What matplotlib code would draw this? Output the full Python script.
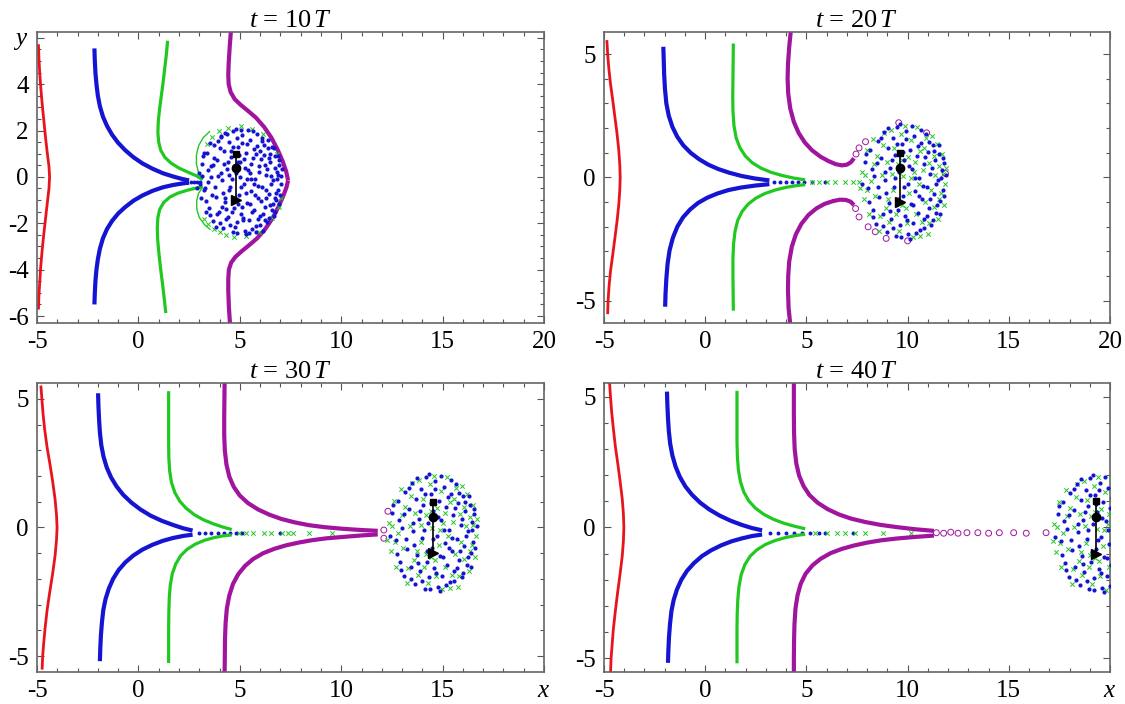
import matplotlib
matplotlib.use('Agg')
import matplotlib.pyplot as plt
from matplotlib.ticker import MultipleLocator

plt.rcParams['font.family'] = ['Liberation Serif', 'DejaVu Serif']
plt.rcParams['mathtext.fontset'] = 'custom'
plt.rcParams['mathtext.rm'] = 'Liberation Serif'
plt.rcParams['mathtext.it'] = 'Liberation Serif:italic'
plt.rcParams['axes.unicode_minus'] = False

# ---- data ---------------------------------------------------------------
times = [10, 20, 30, 40]
y_top = [6.25, 5.9, 5.62, 5.53]
y_bot = [-6.3, -5.9, -5.62, -5.53]

# red streak line
red = [
    [(-4.93, 5.72), (-4.9, 5.0), (-4.86, 4.4), (-4.81, 3.8), (-4.74, 3.1), (-4.66, 2.4),
     (-4.58, 1.7), (-4.49, 1.0), (-4.41, 0.45), (-4.38, 0.0), (-4.41, -0.5), (-4.49, -1.1),
     (-4.58, -1.8), (-4.67, -2.5), (-4.75, -3.2), (-4.82, -3.9), (-4.87, -4.6), (-4.91, -5.2),
     (-4.93, -5.72)],
    [(-4.86, 5.57), (-4.82, 5.0), (-4.76, 4.4), (-4.68, 3.8), (-4.58, 3.2), (-4.47, 2.5),
     (-4.36, 1.8), (-4.27, 1.1), (-4.22, 0.5), (-4.2, 0.0), (-4.22, -0.5), (-4.27, -1.1),
     (-4.36, -1.8), (-4.47, -2.5), (-4.58, -3.2), (-4.68, -3.8), (-4.75, -4.4), (-4.8, -5.0),
     (-4.82, -5.54)],
    [(-4.81, 5.52), (-4.76, 5.0), (-4.7, 4.4), (-4.62, 3.8), (-4.5, 3.1), (-4.37, 2.5),
     (-4.23, 1.8), (-4.11, 1.1), (-4.04, 0.5), (-4.01, 0.0), (-4.04, -0.5), (-4.11, -1.1),
     (-4.23, -1.8), (-4.37, -2.5), (-4.5, -3.2), (-4.6, -3.9), (-4.67, -4.5), (-4.72, -5.0),
     (-4.75, -5.53)],
    [(-4.73, 5.6), (-4.68, 5.0), (-4.62, 4.4), (-4.54, 3.8), (-4.44, 3.1), (-4.33, 2.5),
     (-4.21, 1.8), (-4.1, 1.1), (-4.04, 0.5), (-4.02, 0.0), (-4.04, -0.5), (-4.1, -1.1),
     (-4.21, -1.8), (-4.33, -2.5), (-4.44, -3.2), (-4.54, -3.9), (-4.6, -4.5), (-4.65, -5.0),
     (-4.68, -5.6)],
]

# blue streak line, upper and lower branch
blue_up = [
    [(-2.17, 5.54), (-2.15, 5.0), (-2.12, 4.5), (-2.07, 4.0), (-2.0, 3.5), (-1.9, 3.05),
     (-1.75, 2.6), (-1.55, 2.2), (-1.3, 1.82), (-1.0, 1.47), (-0.65, 1.15), (-0.25, 0.85),
     (0.2, 0.58), (0.7, 0.35), (1.2, 0.16), (1.7, 0.02), (2.2, -0.1), (2.5, -0.15)],
    [(-2.07, 5.3), (-2.05, 4.8), (-2.03, 4.2), (-1.99, 3.6), (-1.92, 3.0), (-1.8, 2.5),
     (-1.62, 2.05), (-1.38, 1.65), (-1.08, 1.3), (-0.72, 1.0), (-0.3, 0.74), (0.15, 0.52),
     (0.65, 0.34), (1.2, 0.19), (1.8, 0.06), (2.45, -0.04), (3.17, -0.12)],
    [(-1.99, 5.22), (-1.97, 4.7), (-1.94, 4.2), (-1.9, 3.7), (-1.83, 3.2), (-1.72, 2.75),
     (-1.56, 2.33), (-1.35, 1.95), (-1.08, 1.6), (-0.75, 1.27), (-0.35, 0.97), (0.1, 0.7),
     (0.6, 0.46), (1.15, 0.26), (1.7, 0.1), (2.2, -0.03), (2.67, -0.12)],
    [(-1.89, 5.2), (-1.87, 4.7), (-1.84, 4.2), (-1.8, 3.7), (-1.73, 3.2), (-1.62, 2.75),
     (-1.46, 2.32), (-1.25, 1.93), (-0.98, 1.57), (-0.65, 1.25), (-0.25, 0.95), (0.2, 0.69),
     (0.7, 0.46), (1.25, 0.26), (1.8, 0.1), (2.3, -0.02), (2.81, -0.11)],
]
blue_lo = [
    [(-2.17, -5.5), (-2.15, -5.0), (-2.12, -4.5), (-2.07, -4.0), (-2.0, -3.55), (-1.9, -3.1),
     (-1.75, -2.65), (-1.55, -2.25), (-1.3, -1.9), (-1.0, -1.58), (-0.65, -1.3), (-0.25, -1.03),
     (0.2, -0.8), (0.7, -0.6), (1.2, -0.45), (1.7, -0.35), (2.2, -0.28), (2.5, -0.25)],
    [(-1.98, -5.24), (-1.96, -4.7), (-1.92, -4.1), (-1.86, -3.5), (-1.76, -2.95), (-1.6, -2.45),
     (-1.38, -2.0), (-1.1, -1.62), (-0.75, -1.3), (-0.35, -1.03), (0.1, -0.82), (0.6, -0.65),
     (1.15, -0.51), (1.75, -0.41), (2.45, -0.33), (3.17, -0.27)],
    [(-1.9, -5.2), (-1.88, -4.7), (-1.85, -4.2), (-1.8, -3.7), (-1.73, -3.2), (-1.62, -2.78),
     (-1.46, -2.38), (-1.25, -2.0), (-0.98, -1.66), (-0.65, -1.36), (-0.25, -1.09), (0.2, -0.86),
     (0.7, -0.67), (1.2, -0.52), (1.7, -0.41), (2.2, -0.33), (2.67, -0.28)],
    [(-1.84, -5.18), (-1.82, -4.7), (-1.79, -4.2), (-1.74, -3.7), (-1.67, -3.2), (-1.56, -2.78),
     (-1.4, -2.38), (-1.18, -2.0), (-0.9, -1.66), (-0.55, -1.36), (-0.15, -1.09), (0.3, -0.87),
     (0.8, -0.68), (1.3, -0.53), (1.8, -0.42), (2.3, -0.33), (2.81, -0.27)],
]
blue_tail = [
    [2.6, 2.75, 2.9, 3.05],
    [3.4, 3.7, 4.0, 4.3, 4.6, 4.9, 5.3, 5.9],
    [3.0, 3.3, 3.6, 3.9, 4.2, 4.5, 4.8, 5.1, 6.98],
    [3.2, 3.6, 4.0, 4.4, 4.8, 5.2, 5.6, 5.92, 7.29],
]

# green streak line
green_up = [
    [(1.44, 5.87), (1.38, 5.3), (1.3, 4.7), (1.22, 4.1), (1.13, 3.5), (1.04, 2.9), (0.98, 2.4),
     (0.96, 1.9), (1.0, 1.5), (1.1, 1.15), (1.3, 0.85), (1.6, 0.6), (2.0, 0.38), (2.45, 0.2),
     (2.85, 0.05), (3.17, -0.12)],
    [(1.39, 5.43), (1.38, 4.7), (1.37, 4.0), (1.36, 3.3), (1.37, 2.7), (1.42, 2.1), (1.53, 1.6),
     (1.72, 1.2), (1.98, 0.87), (2.32, 0.6), (2.75, 0.38), (3.25, 0.21), (3.8, 0.08),
     (4.35, -0.02), (4.94, -0.1)],
    [(1.49, 5.3), (1.49, 4.6), (1.49, 3.9), (1.49, 3.3), (1.5, 2.7), (1.54, 2.2), (1.63, 1.75),
     (1.8, 1.35), (2.04, 1.02), (2.35, 0.75), (2.75, 0.5), (3.2, 0.3), (3.7, 0.14), (4.15, 0.02),
     (4.6, -0.08)],
    [(1.57, 5.23), (1.57, 4.6), (1.57, 3.9), (1.57, 3.3), (1.59, 2.7), (1.64, 2.2), (1.74, 1.75),
     (1.91, 1.35), (2.15, 1.02), (2.48, 0.74), (2.9, 0.5), (3.35, 0.32), (3.85, 0.17), (4.4, 0.05),
     (4.94, -0.05)],
]
green_lo = [
    [(1.35, -5.87), (1.28, -5.3), (1.2, -4.7), (1.1, -4.0), (1.01, -3.3), (0.95, -2.7),
     (0.93, -2.2), (0.96, -1.75), (1.05, -1.4), (1.25, -1.1), (1.55, -0.87), (1.95, -0.7),
     (2.4, -0.58), (2.85, -0.48), (3.17, -0.43)],
    [(1.39, -5.4), (1.38, -4.7), (1.37, -4.0), (1.37, -3.3), (1.4, -2.7), (1.47, -2.2), (1.6, -1.75),
     (1.82, -1.38), (2.12, -1.08), (2.5, -0.84), (2.95, -0.65), (3.45, -0.51), (4.0, -0.4),
     (4.5, -0.33), (4.94, -0.29)],
    [(1.49, -5.27), (1.49, -4.6), (1.49, -3.9), (1.5, -3.3), (1.52, -2.75), (1.57, -2.25),
     (1.67, -1.8), (1.84, -1.42), (2.08, -1.1), (2.4, -0.85), (2.8, -0.65), (3.25, -0.5),
     (3.7, -0.4), (4.15, -0.33), (4.6, -0.29)],
    [(1.57, -5.2), (1.57, -4.6), (1.57, -3.9), (1.58, -3.3), (1.61, -2.75), (1.67, -2.25),
     (1.78, -1.8), (1.96, -1.42), (2.22, -1.1), (2.56, -0.85), (2.98, -0.65), (3.45, -0.5),
     (3.95, -0.39), (4.45, -0.31), (4.94, -0.26)],
]
green_tail = [
    [],
    [5.3, 5.6, 6.0, 6.4, 6.9, 7.3, 7.6],
    [4.95, 5.3, 5.66, 6.19, 6.54, 7.07, 7.39, 7.63, 8.39, 9.53],
    [5.4, 6.0, 6.5, 6.9, 7.4, 7.9, 8.8, 10.18],
]
# green streak wrapping round the blob at t = 10T
green_arc_up = [(3.17, -0.12), (2.96, 0.2), (2.86, 0.55), (2.86, 0.95), (2.97, 1.35),
                (3.2, 1.7), (3.53, 1.97)]
green_arc_lo = [(3.17, -0.43), (2.96, -0.72), (2.87, -1.05), (2.88, -1.4), (3.0, -1.75),
                (3.25, -2.05), (3.55, -2.28)]

# magenta streak line
magenta_up = [
    [(4.57, 6.4), (4.5, 5.6), (4.45, 4.9), (4.43, 4.4), (4.45, 4.0), (4.55, 3.65), (4.75, 3.35),
     (5.05, 3.1), (5.4, 2.85), (5.8, 2.55), (6.2, 2.15), (6.55, 1.7), (6.85, 1.2), (7.1, 0.7),
     (7.28, 0.25), (7.38, -0.15)],
    [(4.23, 5.95), (4.15, 5.3), (4.09, 4.6), (4.07, 4.0), (4.1, 3.4), (4.2, 2.8), (4.38, 2.25),
     (4.62, 1.8), (4.92, 1.42), (5.28, 1.1), (5.7, 0.84), (6.1, 0.66), (6.45, 0.54), (6.75, 0.49),
     (7.0, 0.52), (7.2, 0.62), (7.35, 0.78)],
    [(4.25, 5.68), (4.24, 5.0), (4.23, 4.3), (4.23, 3.6), (4.26, 3.0), (4.34, 2.45), (4.48, 1.98),
     (4.7, 1.58), (5.0, 1.24), (5.4, 0.95), (5.9, 0.7), (6.45, 0.5), (7.05, 0.33), (7.7, 0.2),
     (8.4, 0.09), (9.2, 0.01), (10.06, -0.05), (11.0, -0.1), (11.8, -0.13)],
    [(4.38, 5.6), (4.38, 5.0), (4.38, 4.3), (4.39, 3.6), (4.42, 3.0), (4.5, 2.45), (4.64, 1.98),
     (4.86, 1.58), (5.15, 1.24), (5.55, 0.95), (6.05, 0.7), (6.6, 0.5), (7.2, 0.34), (7.9, 0.21),
     (8.65, 0.1), (9.5, 0.01), (10.4, -0.07), (11.3, -0.13)],
]
magenta_lo = [
    [(4.52, -6.4), (4.46, -5.6), (4.43, -4.9), (4.43, -4.4), (4.46, -4.0), (4.57, -3.7),
     (4.78, -3.45), (5.1, -3.2), (5.45, -2.95), (5.85, -2.65), (6.25, -2.25), (6.6, -1.8),
     (6.9, -1.3), (7.15, -0.8), (7.3, -0.45), (7.38, -0.15)],
    [(4.2, -5.95), (4.12, -5.3), (4.09, -4.6), (4.1, -4.0), (4.15, -3.4), (4.28, -2.8), (4.48, -2.3),
     (4.75, -1.88), (5.1, -1.52), (5.5, -1.25), (5.9, -1.07), (6.3, -0.96), (6.65, -0.9),
     (6.95, -0.91), (7.18, -0.98), (7.35, -1.12)],
    [(4.25, -5.63), (4.26, -5.0), (4.27, -4.3), (4.3, -3.7), (4.36, -3.15), (4.48, -2.65),
     (4.66, -2.2), (4.92, -1.82), (5.25, -1.5), (5.65, -1.23), (6.15, -1.0), (6.7, -0.83),
     (7.3, -0.69), (7.95, -0.58), (8.6, -0.49), (9.3, -0.42), (10.06, -0.37), (11.0, -0.31),
     (11.8, -0.27)],
    [(4.38, -5.6), (4.38, -5.0), (4.39, -4.3), (4.41, -3.7), (4.46, -3.1), (4.56, -2.6),
     (4.72, -2.15), (4.96, -1.77), (5.3, -1.45), (5.7, -1.2), (6.2, -0.98), (6.75, -0.82),
     (7.35, -0.69), (8.0, -0.58), (8.7, -0.49), (9.5, -0.42), (10.4, -0.36), (11.3, -0.31)],
]
# loose magenta markers (open circles)
magenta_pts = [
    [],
    [(7.45, 0.95), (7.6, 1.2), (7.92, 1.45), (9.56, 2.22), (10.94, 1.81), (11.87, 0.16),
     (7.43, -1.26), (7.6, -1.6), (8.05, -2.0), (8.4, -2.2), (8.94, -2.47), (10.0, -2.57)],
    [(12.1, -0.1), (12.3, 0.63), (12.1, -0.42)],
    [(11.42, -0.2), (11.78, -0.22), (12.13, -0.18), (12.49, -0.22), (12.93, -0.2), (13.47, -0.2),
     (14.0, -0.22), (14.53, -0.2), (15.24, -0.2), (15.86, -0.22), (16.84, -0.2)],
]
tail_y = -0.2

# particle blob: centre, radii and particle offsets (fraction of radius)
blob_cx = [4.95, 9.75, 14.45, 19.3]
blob_cy = [-0.2, -0.15, -0.2, -0.23]
blob_rx = [2.2, 2.25, 2.35, 2.3]
blob_ry = [2.4, 2.45, 2.4, 2.35]

blue_off = [
    (-0.82, 0.31), (-0.75, -0.12), (-0.71, 0.52), (-0.66, -0.48), (-0.62, 0.08), (-0.58, -0.71),
    (-0.55, 0.66), (-0.51, -0.27), (-0.48, 0.38), (-0.44, -0.55), (-0.41, 0.81), (-0.38, 0.02),
    (-0.35, -0.84), (-0.33, 0.55), (-0.30, -0.36), (-0.27, 0.22), (-0.25, -0.63), (-0.22, 0.71),
    (-0.19, -0.09), (-0.17, 0.44), (-0.14, -0.91), (-0.12, 0.90), (-0.10, -0.47), (-0.07, 0.15),
    (-0.05, -0.72), (-0.02, 0.62), (0.01, -0.25), (0.03, 0.35), (0.06, -0.58), (0.08, 0.83),
    (0.11, -0.05), (0.13, -0.88), (0.16, 0.51), (0.18, -0.38), (0.21, 0.20), (0.23, -0.70),
    (0.26, 0.74), (0.28, -0.17), (0.31, 0.42), (0.33, -0.52), (0.36, 0.05), (0.38, -0.80),
    (0.41, 0.63), (0.43, -0.30), (0.46, 0.28), (0.48, -0.62), (0.51, 0.78), (0.53, -0.10),
    (0.56, 0.48), (0.58, -0.45), (0.61, 0.12), (0.63, -0.72), (0.66, 0.60), (0.68, -0.22),
    (0.71, 0.35), (0.74, -0.52), (0.77, 0.02), (0.80, 0.45), (0.83, -0.33), (0.86, 0.18),
    (0.88, -0.15), (0.90, 0.30),
    (-0.88, -0.05), (-0.80, 0.45), (-0.73, -0.35), (-0.68, 0.20), (-0.64, -0.60), (-0.57, 0.30),
    (-0.53, -0.10), (-0.47, 0.72), (-0.43, -0.75), (-0.39, 0.15), (-0.36, -0.20), (-0.31, 0.88),
    (-0.28, -0.50), (-0.24, 0.35), (-0.20, -0.78), (-0.16, 0.05), (-0.13, 0.62), (-0.09, -0.30),
    (-0.06, 0.95), (-0.03, -0.92), (0.00, 0.48), (0.04, -0.10), (0.07, 0.70), (0.10, -0.65),
    (0.14, 0.25), (0.17, -0.95), (0.20, 0.92), (0.24, -0.40), (0.27, 0.05), (0.30, -0.85),
    (0.34, 0.58), (0.37, -0.25), (0.40, 0.85), (0.44, -0.08), (0.47, -0.78), (0.50, 0.40),
    (0.54, -0.58), (0.57, 0.65), (0.60, -0.30), (0.64, 0.22), (0.67, -0.65), (0.70, 0.50),
    (0.73, -0.05), (0.76, -0.40), (0.79, 0.60), (0.82, -0.55), (0.85, 0.05), (0.89, 0.38),
    (0.92, -0.25), (0.95, 0.10),
]
green_off = [
    (-0.90, 0.15), (-0.85, -0.30), (-0.79, 0.52), (-0.74, -0.55), (-0.70, 0.00), (-0.65, 0.70),
    (-0.60, -0.25), (-0.56, 0.42), (-0.52, -0.82), (-0.46, 0.10), (-0.42, 0.60), (-0.37, -0.45),
    (-0.34, 0.32), (-0.29, -0.68), (-0.26, 0.85), (-0.21, -0.15), (-0.18, 0.55), (-0.15, -0.55),
    (-0.11, 0.28), (-0.08, -0.82), (-0.04, 0.78), (-0.01, -0.40), (0.02, 0.08), (0.05, 0.92),
    (0.09, -0.70), (0.12, 0.40), (0.15, -0.20), (0.19, 0.68), (0.22, -0.92), (0.25, 0.15),
    (0.29, -0.55), (0.32, 0.90), (0.35, -0.05), (0.39, 0.50), (0.42, -0.68), (0.45, 0.18),
    (0.49, -0.35), (0.52, 0.72), (0.55, -0.88), (0.59, 0.30), (0.62, -0.15), (0.65, 0.75),
    (0.69, -0.42), (0.72, 0.10), (0.75, 0.62), (0.78, -0.62), (0.81, 0.25), (0.84, -0.20),
    (0.87, 0.45), (0.91, -0.40), (0.94, -0.05), (0.96, 0.22),
    (-0.93, -0.12), (-0.83, 0.10), (-0.77, -0.15), (-0.62, 0.28), (-0.50, -0.58), (-0.40, 0.80),
    (-0.31, -0.30), (-0.23, 0.12), (-0.12, -0.35), (-0.02, 0.35), (0.07, -0.45), (0.18, 0.05),
    (0.28, 0.32), (0.38, -0.90), (0.48, 0.55), (0.58, -0.70), (0.68, 0.42), (0.80, -0.30),
    (0.88, 0.12),
]
# green markers on the rim of the blob at t = 10T
rim_off = [
    (-0.25, 0.97), (-0.45, 0.9), (-0.6, 0.8), (-0.72, 0.68),
    (-0.78, -0.68), (-0.68, -0.77), (-0.56, -0.85), (-0.43, -0.91),
    (-0.28, -0.96), (-0.1, -0.99), (0.15, -0.98), (0.45, -0.9), (0.05, 0.99), (0.3, 0.95),
    (0.55, 0.85), (0.85, 0.5), (0.95, -0.3), (0.9, -0.45), (0.75, -0.65),
]

# black tracer: square, circle, triangle
probe_x = [4.8, 9.6, 14.5, 19.3]
probe_y = [1.0, 0.4, -1.0]

RED, BLUE, GREEN, MAG = '#e8141c', '#1414d2', '#20c820', '#a0149e'

# ---- figure ------------------------------------------------------------------
fig = plt.figure(figsize=(11.25, 7.04), dpi=100)
boxes = [
    (0.0329, 0.5412, 0.4507, 0.4134),
    (0.5369, 0.5412, 0.4498, 0.4134),
    (0.0329, 0.0455, 0.4507, 0.4105),
    (0.5369, 0.0455, 0.4498, 0.4105),
]


def xy(points):
    return [p[0] for p in points], [p[1] for p in points]


def streak(ax, points, color, lw):
    ax.plot(*xy(points), color=color, lw=lw, solid_joinstyle='round', solid_capstyle='butt')


for i, box in enumerate(boxes):
    ax = fig.add_axes(box)

    streak(ax, red[i], RED, 2.0)
    streak(ax, blue_up[i], BLUE, 3.0)
    streak(ax, blue_lo[i], BLUE, 3.0)
    streak(ax, green_up[i], GREEN, 2.3)
    streak(ax, green_lo[i], GREEN, 2.3)
    streak(ax, magenta_up[i], MAG, 3.0)
    streak(ax, magenta_lo[i], MAG, 3.0)
    if i == 0:
        streak(ax, green_arc_up, GREEN, 1.0)
        streak(ax, green_arc_lo, GREEN, 1.0)

    ax.scatter(blue_tail[i], [tail_y] * len(blue_tail[i]), s=8, color=BLUE, lw=0)
    ax.scatter(green_tail[i], [tail_y] * len(green_tail[i]), s=10, marker='x', color=GREEN, lw=0.7)
    if magenta_pts[i]:
        mx, my = xy(magenta_pts[i])
        ax.scatter(mx, my, s=18, facecolors='none', edgecolors=MAG, lw=0.7)

    # particle blob
    cx, cy, rx, ry = blob_cx[i], blob_cy[i], blob_rx[i], blob_ry[i]
    if i == 0:
        b_pts = blue_off + green_off
        g_pts = rim_off
    else:
        b_pts = blue_off
        g_pts = green_off
    ax.scatter([cx + rx * u for u, v in g_pts], [cy + ry * v for u, v in g_pts],
               s=10, marker='x', color=GREEN, lw=0.7, zorder=3)
    ax.scatter([cx + rx * u for u, v in b_pts], [cy + ry * v for u, v in b_pts],
               s=9, color=BLUE, lw=0, zorder=3)

    # tracer
    px = probe_x[i]
    ax.plot([px, px], [probe_y[0], probe_y[2]], color='black', lw=1.2, zorder=4)
    ax.plot(px, probe_y[0], marker='s', ms=5, color='black', zorder=5)
    ax.plot(px, probe_y[1], marker='o', ms=6, color='black', zorder=5)
    ax.plot(px, probe_y[2], marker='>', ms=7, color='black', zorder=5)

    ax.set_xlim(-5, 20)
    ax.set_ylim(y_bot[i], y_top[i])
    ax.set_xticks([-5, 0, 5, 10, 15, 20])
    ax.xaxis.set_minor_locator(MultipleLocator(1))
    if i == 0:
        ax.set_yticks([-6, -4, -2, 0, 2, 4, 6])
        ax.set_yticklabels(['-6', '-4', '-2', '0', '2', '4', '$y$'])
        ax.yaxis.set_minor_locator(MultipleLocator(0.5))
    else:
        ax.set_yticks([-5, 0, 5])
        ax.yaxis.set_minor_locator(MultipleLocator(1))
    if i >= 2:
        ax.set_xticklabels(['-5', '0', '5', '10', '15', '$x$'])

    ax.tick_params(which='both', direction='in', top=True, right=True,
                   color='#555555', width=0.8, labelsize=18, pad=6)
    ax.tick_params(which='major', length=5)
    ax.tick_params(which='minor', length=3)
    for sp in ax.spines.values():
        sp.set_color('#666666')
        sp.set_linewidth(1.2)

    ax.set_title(f'$t$ = {times[i]}$\\,T$', fontsize=19, pad=1)

fig.savefig('out.png', dpi=100)
